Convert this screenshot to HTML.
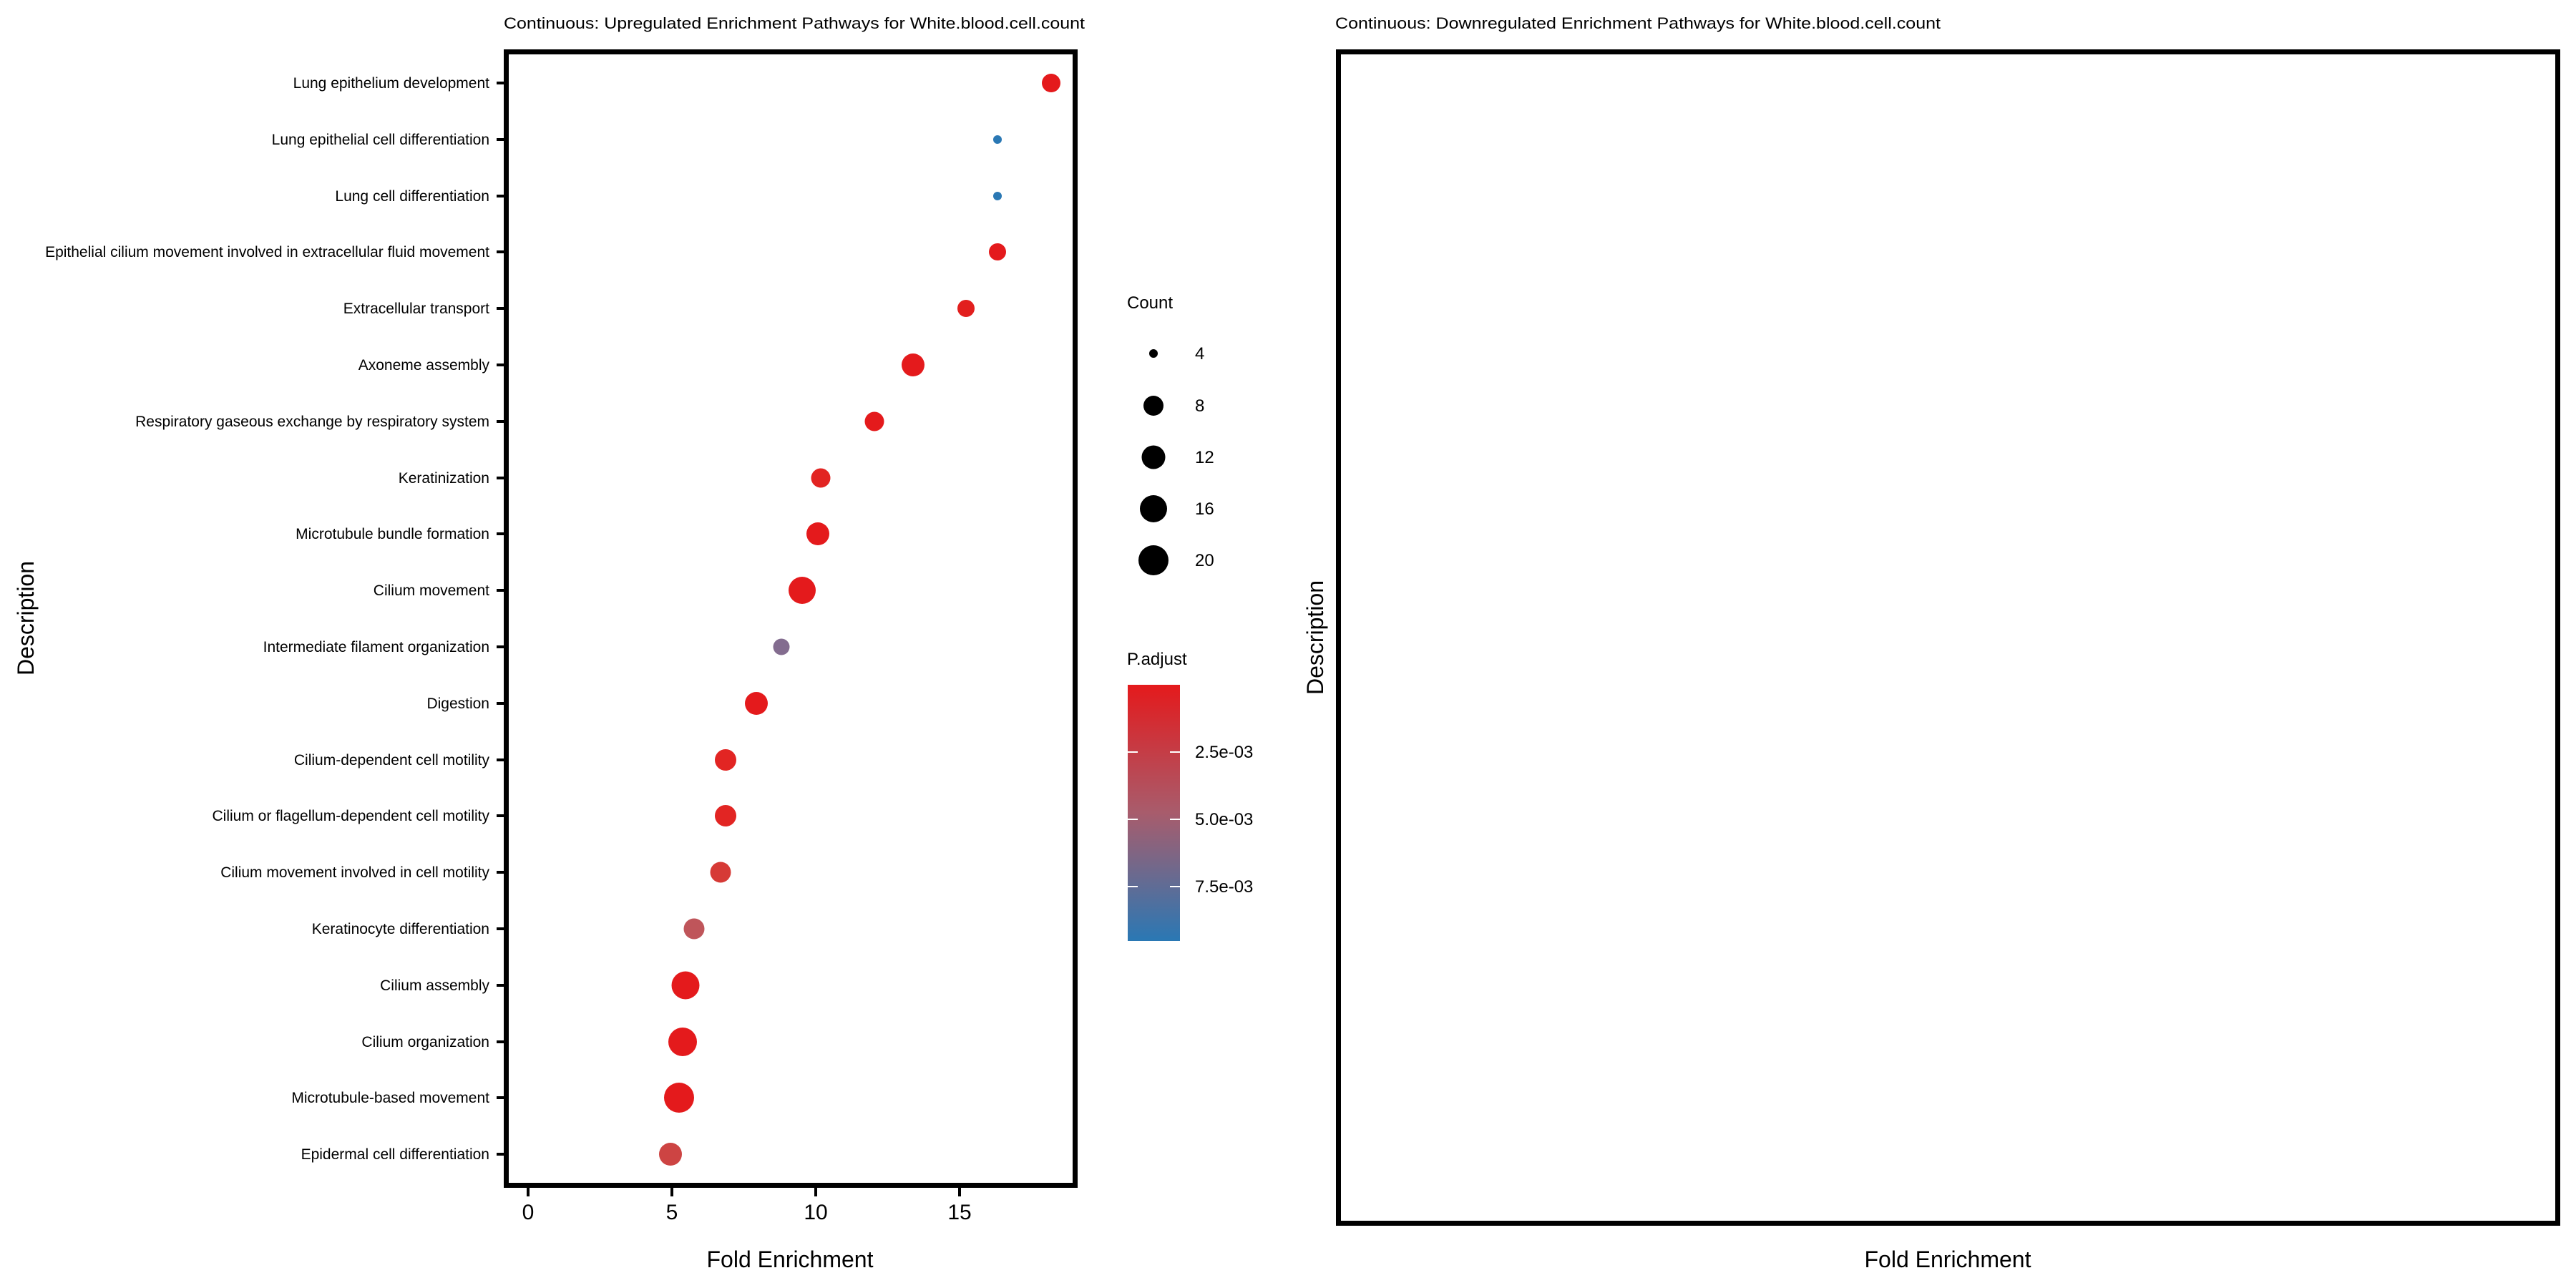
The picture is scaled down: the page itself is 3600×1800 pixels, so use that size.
<!DOCTYPE html>
<html><head><meta charset="utf-8"><style>
html,body{margin:0;padding:0;background:#fff;}
svg{display:block;}
text{font-family:"Liberation Sans",Arial,sans-serif;fill:#000;}
</style></head><body>
<svg width="3600" height="1800" viewBox="0 0 3600 1800" xmlns="http://www.w3.org/2000/svg">
<defs>
<linearGradient id="g" x1="0" y1="0" x2="0" y2="1">
<stop offset="0" stop-color="#e41a1c"/>
<stop offset="0.5" stop-color="#a85c6c"/>
<stop offset="1" stop-color="#2a78b4"/>
</linearGradient>
</defs>
<!-- Left panel -->
<text x="704" y="40" font-size="22" textLength="812" lengthAdjust="spacingAndGlyphs">Continuous: Upregulated Enrichment Pathways for White.blood.cell.count</text>
<rect x="707.5" y="72.5" width="795" height="1584" fill="none" stroke="#000" stroke-width="7"/>
<g font-size="21" text-anchor="end">
<text x="684" y="123">Lung epithelium development</text>
<text x="684" y="202">Lung epithelial cell differentiation</text>
<text x="684" y="281">Lung cell differentiation</text>
<text x="684" y="359">Epithelial cilium movement involved in extracellular fluid movement</text>
<text x="684" y="438">Extracellular transport</text>
<text x="684" y="517">Axoneme assembly</text>
<text x="684" y="596">Respiratory gaseous exchange by respiratory system</text>
<text x="684" y="675">Keratinization</text>
<text x="684" y="753">Microtubule bundle formation</text>
<text x="684" y="832">Cilium movement</text>
<text x="684" y="911">Intermediate filament organization</text>
<text x="684" y="990">Digestion</text>
<text x="684" y="1069">Cilium-dependent cell motility</text>
<text x="684" y="1147">Cilium or flagellum-dependent cell motility</text>
<text x="684" y="1226">Cilium movement involved in cell motility</text>
<text x="684" y="1305">Keratinocyte differentiation</text>
<text x="684" y="1384">Cilium assembly</text>
<text x="684" y="1463">Cilium organization</text>
<text x="684" y="1541">Microtubule-based movement</text>
<text x="684" y="1620">Epidermal cell differentiation</text>
</g>
<g stroke="#000" stroke-width="4">
<line x1="694" y1="116" x2="705" y2="116"/><line x1="694" y1="195" x2="705" y2="195"/>
<line x1="694" y1="274" x2="705" y2="274"/><line x1="694" y1="352" x2="705" y2="352"/>
<line x1="694" y1="431" x2="705" y2="431"/><line x1="694" y1="510" x2="705" y2="510"/>
<line x1="694" y1="589" x2="705" y2="589"/><line x1="694" y1="668" x2="705" y2="668"/>
<line x1="694" y1="746" x2="705" y2="746"/><line x1="694" y1="825" x2="705" y2="825"/>
<line x1="694" y1="904" x2="705" y2="904"/><line x1="694" y1="983" x2="705" y2="983"/>
<line x1="694" y1="1062" x2="705" y2="1062"/><line x1="694" y1="1140" x2="705" y2="1140"/>
<line x1="694" y1="1219" x2="705" y2="1219"/><line x1="694" y1="1298" x2="705" y2="1298"/>
<line x1="694" y1="1377" x2="705" y2="1377"/><line x1="694" y1="1456" x2="705" y2="1456"/>
<line x1="694" y1="1534" x2="705" y2="1534"/><line x1="694" y1="1613" x2="705" y2="1613"/>
<line x1="738" y1="1660" x2="738" y2="1672"/><line x1="939" y1="1660" x2="939" y2="1672"/>
<line x1="1140" y1="1660" x2="1140" y2="1672"/><line x1="1341" y1="1660" x2="1341" y2="1672"/>
</g>
<g font-size="30" text-anchor="middle">
<text x="738" y="1704">0</text><text x="939" y="1704">5</text>
<text x="1140" y="1704">10</text><text x="1341" y="1704">15</text>
</g>
<text x="1104" y="1771" font-size="32" text-anchor="middle">Fold Enrichment</text>
<text transform="translate(47,864) rotate(-90)" font-size="32" text-anchor="middle">Description</text>
<!-- dots -->
<circle cx="1469" cy="116" r="13" fill="#e41a1c"/>
<circle cx="1394" cy="195" r="6" fill="#2a78b4"/>
<circle cx="1394" cy="274" r="6" fill="#2a78b4"/>
<circle cx="1394" cy="352" r="12" fill="#e41a1c"/>
<circle cx="1350" cy="431" r="12" fill="#e21f1e"/>
<circle cx="1276" cy="510" r="16" fill="#e41a1c"/>
<circle cx="1222" cy="589" r="13.5" fill="#e41a1c"/>
<circle cx="1147" cy="668" r="13.5" fill="#e22422"/>
<circle cx="1143" cy="746" r="16" fill="#e41a1c"/>
<circle cx="1121" cy="825" r="19" fill="#e41a1c"/>
<circle cx="1092" cy="904" r="11.5" fill="#836c8f"/>
<circle cx="1057" cy="983" r="16" fill="#e41a1c"/>
<circle cx="1014" cy="1062" r="15" fill="#e22523"/>
<circle cx="1014" cy="1140" r="15" fill="#e22523"/>
<circle cx="1007" cy="1219" r="14.5" fill="#d63a36"/>
<circle cx="970" cy="1298" r="14.5" fill="#bf555a"/>
<circle cx="958" cy="1377" r="19.5" fill="#e41a1c"/>
<circle cx="954" cy="1456" r="20" fill="#e41a1c"/>
<circle cx="949" cy="1534" r="21" fill="#e41a1c"/>
<circle cx="937" cy="1613" r="16" fill="#cd4443"/>
<!-- legend -->
<text x="1575" y="431" font-size="24">Count</text>
<circle cx="1612" cy="494" r="6" fill="#000"/>
<circle cx="1612" cy="567" r="14" fill="#000"/>
<circle cx="1612" cy="639" r="16.5" fill="#000"/>
<circle cx="1612" cy="711" r="19" fill="#000"/>
<circle cx="1612" cy="783" r="21" fill="#000"/>
<g font-size="24">
<text x="1670" y="502">4</text><text x="1670" y="575">8</text>
<text x="1670" y="647">12</text><text x="1670" y="719">16</text>
<text x="1670" y="791">20</text>
<text x="1575" y="929">P.adjust</text>
<text x="1670" y="1059">2.5e-03</text>
<text x="1670" y="1153">5.0e-03</text>
<text x="1670" y="1247">7.5e-03</text>
</g>
<rect x="1576" y="957" width="73" height="358" fill="url(#g)"/>
<g stroke="#fff" stroke-width="2">
<line x1="1576" y1="1051" x2="1590" y2="1051"/><line x1="1635" y1="1051" x2="1649" y2="1051"/>
<line x1="1576" y1="1145" x2="1590" y2="1145"/><line x1="1635" y1="1145" x2="1649" y2="1145"/>
<line x1="1576" y1="1239" x2="1590" y2="1239"/><line x1="1635" y1="1239" x2="1649" y2="1239"/>
</g>
<!-- Right panel -->
<text x="1866" y="40" font-size="22" textLength="846" lengthAdjust="spacingAndGlyphs">Continuous: Downregulated Enrichment Pathways for White.blood.cell.count</text>
<rect x="1870.5" y="72.5" width="1704" height="1637" fill="none" stroke="#000" stroke-width="7"/>
<text transform="translate(1849,891) rotate(-90)" font-size="32" text-anchor="middle">Description</text>
<text x="2722" y="1771" font-size="32" text-anchor="middle">Fold Enrichment</text>
</svg>
</body></html>
